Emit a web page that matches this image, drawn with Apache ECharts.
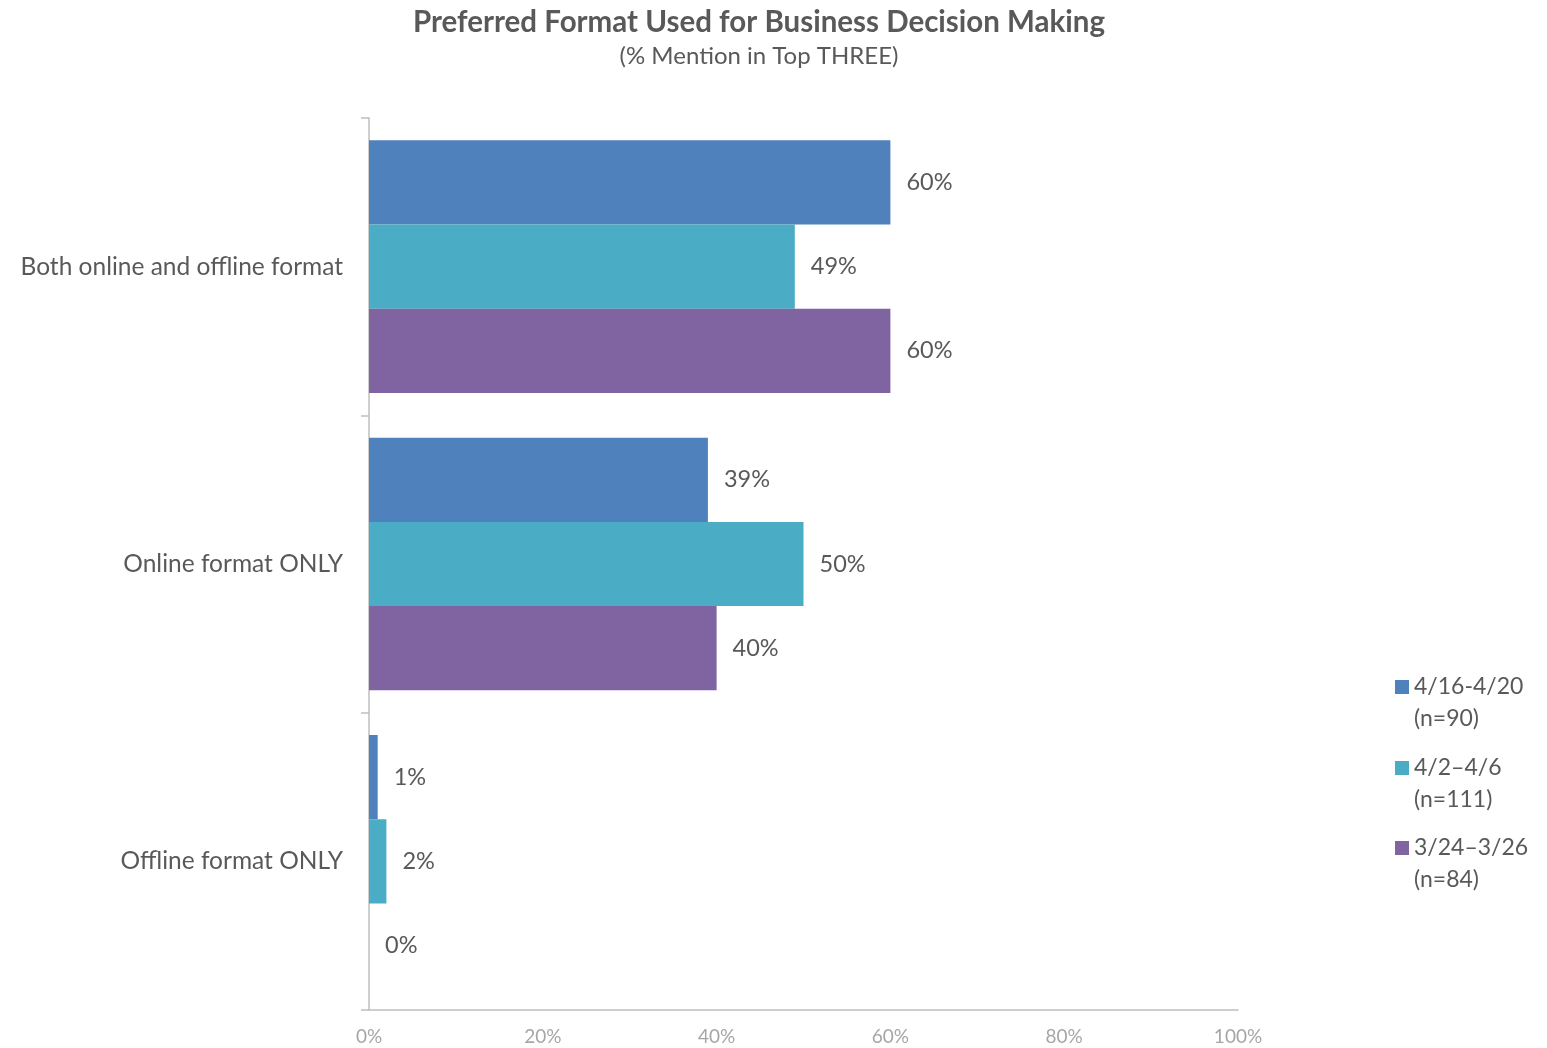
<!DOCTYPE html>
<html>
<head>
<meta charset="utf-8">
<title>Preferred Format Used for Business Decision Making</title>
<script src="https://cdn.jsdelivr.net/npm/echarts@6/dist/echarts.min.js"></script>
<style>
  html, body { margin: 0; padding: 0; background: #ffffff; }
  #chart { width: 1547px; height: 1048px; }
</style>
</head>
<body>
<div id="chart"></div>
<script>
// Response categories, top to bottom
const categories = ['Both online and offline format', 'Online format ONLY', 'Offline format ONLY'];

// Survey waves (legend names) and their share of mentions, in %
const waveNames = ['4/16-4/20\n(n=90)', '4/2\u20134/6\n(n=111)', '3/24\u20133/26\n(n=84)'];
const wave0416 = [60, 39, 1];
const wave0402 = [49, 50, 2];
const wave0324 = [60, 40, 0];

// Value axis ticks
const xTicks = [0, 20, 40, 60, 80, 100];

const colors = ['#4F81BD', '#4BACC6', '#8064A2'];
const seriesValues = [wave0416, wave0402, wave0324];
const FONT = 'Lato, "Open Sans", sans-serif';
const TEXT = '#595959';

const chart = echarts.init(document.getElementById('chart'), null, { renderer: 'canvas' });

// one legend block per wave; a blank leading line keeps the swatch level with the first text line
const legendTops = [639, 720, 800];
const legends = waveNames.map((name, i) => ({
  data: [name],
  orient: 'vertical',
  left: 1395,
  top: legendTops[i],
  itemWidth: 14,
  itemHeight: 14,
  itemGap: 0,
  icon: 'rect',
  selectedMode: false,
  padding: 0,
  formatter: n => ' \n' + n,
  textStyle: {
    fontFamily: FONT,
    fontSize: 23,
    color: TEXT,
    lineHeight: 32
  }
}));

chart.setOption({
  animation: false,
  color: colors,
  title: {
    text: 'Preferred Format Used for Business Decision Making',
    subtext: '(% Mention in Top THREE)',
    left: 754,
    textAlign: 'center',
    top: 2,
    itemGap: 7,
    textStyle: { fontFamily: FONT, fontSize: 29.5, fontWeight: 'bold', color: TEXT },
    subtextStyle: { fontFamily: FONT, fontSize: 24, color: TEXT }
  },
  legend: legends,
  grid: { left: 369, right: 309, top: 118, bottom: 38, containLabel: false },
  xAxis: {
    type: 'value',
    min: xTicks[0],
    max: xTicks[xTicks.length - 1],
    interval: xTicks[1] - xTicks[0],
    axisLine: { show: true, lineStyle: { color: '#BFBFBF', width: 1.5 } },
    axisTick: { show: false },
    splitLine: { show: false },
    axisLabel: {
      formatter: v => v + '%',
      fontFamily: FONT,
      fontSize: 19,
      color: '#A6A6A6',
      margin: 17
    }
  },
  yAxis: {
    type: 'category',
    data: categories,
    inverse: true,
    axisLine: { show: true, lineStyle: { color: '#BFBFBF', width: 1.5 } },
    axisTick: { show: true, length: 8, lineStyle: { color: '#BFBFBF', width: 1.5 } },
    axisLabel: { fontFamily: FONT, fontSize: 24.5, color: TEXT, margin: 26 }
  },
  series: waveNames.map((name, i) => ({
    name: name,
    type: 'bar',
    data: seriesValues[i],
    barGap: '0%',
    barCategoryGap: '15%',
    itemStyle: { color: colors[i] },
    label: {
      show: true,
      position: 'right',
      distance: 16,
      formatter: p => p.value + '%',
      fontFamily: FONT,
      fontSize: 23.5,
      color: TEXT
    }
  }))
});
</script>
</body>
</html>
